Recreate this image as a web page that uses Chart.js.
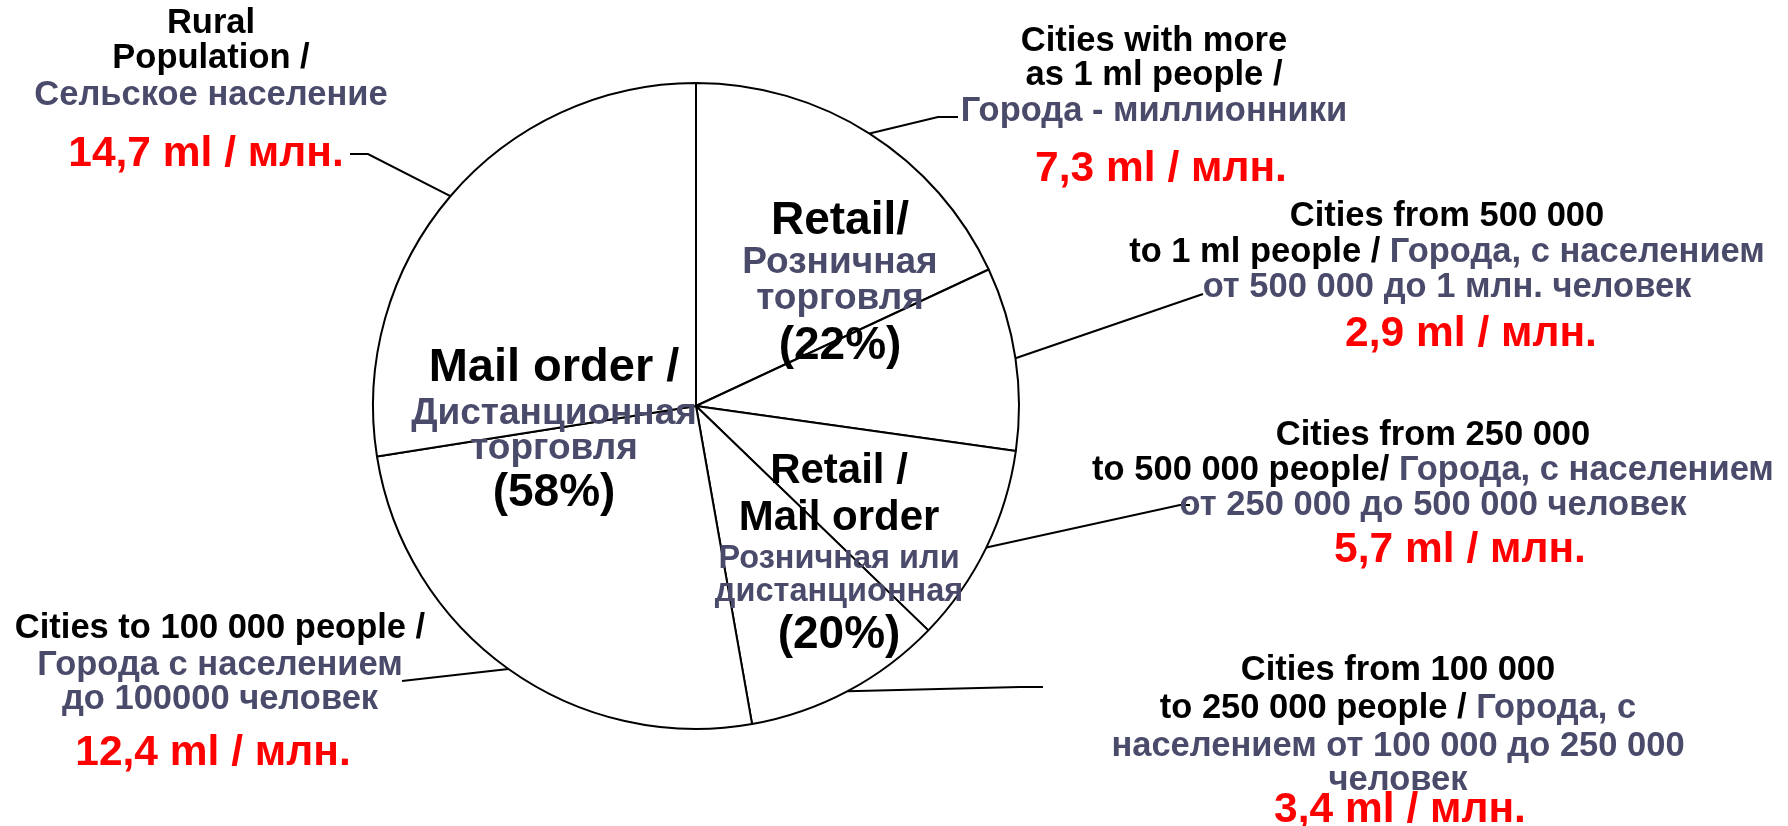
<!DOCTYPE html>
<html>
<head>
<meta charset="utf-8">
<title>Population / Население</title>
<script src="https://cdn.jsdelivr.net/npm/chart.js@4.4.1/dist/chart.umd.min.js"></script>
<style>
  html, body { margin: 0; padding: 0; background: #fff; }
  #wrap { width: 1788px; height: 826px; position: relative; }
</style>
</head>
<body>
<div id="wrap"><canvas id="popChart"></canvas></div>
<script>
// slices, clockwise from 12 o'clock
const categories = [
    'Cities with more as 1 ml people',
    'Cities from 500 000 to 1 ml people',
    'Cities from 250 000 to 500 000 people',
    'Cities from 100 000 to 250 000 people',
    'Cities to 100 000 people',
    'Rural Population'
];
// slice sizes as drawn in the picture (degrees)
const sliceValues = [65, 33, 36, 36, 91, 99];
const populationValues = ['7,3', '2,9', '5,7', '3,4', '12,4', '14,7'];
const populationUnit = ' ml / млн.';

// sales channel groups written across the pie
const channelNames = [['Retail/'], ['Retail /', 'Mail order'], ['Mail order /']];
const channelNamesRu = [['Розничная', 'торговля'], ['Розничная или', 'дистанционная'], ['Дистанционная', 'торговля']];
const channelShares = ['(22%)', '(20%)', '(58%)'];

const BLACK = '#000000';
const SLATE = '#4a4a6b';
const RED = '#ff0000';
const FONT = '"Liberation Sans", Arial, Helvetica, sans-serif';

// text of every callout, split in coloured runs
const calloutText = [
    [[['Cities with more', BLACK]], [['as 1 ml people /', BLACK]], [['Города - миллионники', SLATE]]],
    [[['Cities from 500 000', BLACK]], [['to 1 ml people / ', BLACK], ['Города, с населением', SLATE]], [['от 500 000 до 1 млн. человек', SLATE]]],
    [[['Cities from 250 000', BLACK]], [['to 500 000 people/ ', BLACK], ['Города, с населением', SLATE]], [['от 250 000 до 500 000 человек', SLATE]]],
    [[['Cities from 100 000', BLACK]], [['to 250 000 people / ', BLACK], ['Города, с', SLATE]], [['населением от 100 000 до 250 000', SLATE]], [['человек', SLATE]]],
    [[['Cities to 100 000 people /', BLACK]], [['Города с населением', SLATE]], [['до 100000 человек', SLATE]]],
    [[['Rural', BLACK]], [['Population /', BLACK]], [['Сельское население', SLATE]]]
];

// layout of callouts: text centre x, y of each line, value position, leader path after the pie edge
const calloutLayout = [
    { x: 1154, ys: [41, 75, 111], vx: 1161, vy: 169, path: [[938, 117], [958, 117]] },
    { x: 1447, ys: [216, 252, 287], vx: 1471, vy: 334, path: [[1203, 294]] },
    { x: 1433, ys: [435, 470, 505], vx: 1460, vy: 550, path: [[1180, 505], [1190, 505]] },
    { x: 1398, ys: [670, 708, 746, 780], vx: 1400, vy: 810, path: [[1020, 687], [1043, 687]] },
    { x: 220, ys: [628, 665, 699], vx: 213, vy: 753, path: [[402, 681]] },
    { x: 211, ys: [23, 58, 95], vx: 206, vy: 154, path: [[368, 154], [350, 154]] }
];

// channel labels: offset from pie centre (x) and baselines relative to centre
const channelLayout = [
    { dx: 144, big: 46, ru: 37, ys: [-172, -133, -97, -47] },
    { dx: 143, big: 42, ru: 32.5, ys: [77, 124, 162, 195, 242] },
    { dx: -142, big: 47, ru: 37, ys: [-25, 18, 53, 100] }
];

function drawRuns(ctx, runs, cx, y, size) {
    ctx.font = `bold ${size}px ${FONT}`;
    let total = 0;
    runs.forEach(r => { total += ctx.measureText(r[0]).width; });
    let x = cx - total / 2;
    ctx.textAlign = 'left';
    runs.forEach(r => {
        ctx.fillStyle = r[1];
        ctx.fillText(r[0], x, y);
        x += ctx.measureText(r[0]).width;
    });
}

const calloutPlugin = {
    id: 'callouts',
    afterDraw(chart) {
        const ctx = chart.ctx;
        const arcs = chart.getDatasetMeta(0).data;
        const cx = arcs[0].x;
        const cy = arcs[0].y;
        ctx.save();

        // leader lines from the middle of each slice edge
        ctx.strokeStyle = BLACK;
        ctx.lineWidth = 2;
        arcs.forEach((arc, i) => {
            const mid = (arc.startAngle + arc.endAngle) / 2;
            ctx.beginPath();
            ctx.moveTo(arc.x + Math.cos(mid) * arc.outerRadius, arc.y + Math.sin(mid) * arc.outerRadius);
            calloutLayout[i].path.forEach(p => ctx.lineTo(p[0], p[1]));
            ctx.stroke();
        });

        // callout texts
        ctx.textBaseline = 'middle';
        calloutText.forEach((lines, i) => {
            const lay = calloutLayout[i];
            lines.forEach((runs, j) => drawRuns(ctx, runs, lay.x, lay.ys[j], 34.5));
            drawRuns(ctx, [[populationValues[i] + populationUnit, RED]], lay.vx, lay.vy, 42.5);
        });

        // channel texts inside the pie
        ctx.textBaseline = 'alphabetic';
        channelLayout.forEach((lay, k) => {
            let row = 0;
            const x = cx + lay.dx;
            channelNames[k].forEach(t => drawRuns(ctx, [[t, BLACK]], x, cy + lay.ys[row++], lay.big));
            channelNamesRu[k].forEach(t => drawRuns(ctx, [[t, SLATE]], x, cy + lay.ys[row++], lay.ru));
            drawRuns(ctx, [[channelShares[k], BLACK]], x, cy + lay.ys[row++], 46);
        });
        ctx.restore();
    }
};

new Chart(document.getElementById('popChart'), {
    type: 'pie',
    data: {
        labels: categories,
        datasets: [{
            data: sliceValues,
            backgroundColor: '#ffffff',
            borderColor: '#000000',
            borderWidth: 2
        }]
    },
    options: {
        responsive: true,
        maintainAspectRatio: false,
        animation: false,
        layout: { padding: { left: 372, right: 768, top: 82, bottom: 96 } },
        plugins: {
            legend: { display: false },
            tooltip: { enabled: false }
        }
    },
    plugins: [calloutPlugin]
});
</script>
</body>
</html>
